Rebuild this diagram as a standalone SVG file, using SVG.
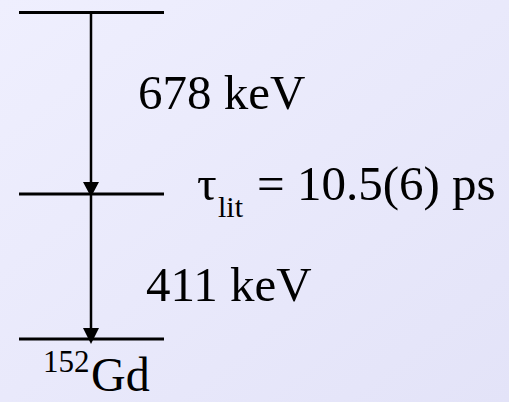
<svg xmlns="http://www.w3.org/2000/svg" width="509" height="402" viewBox="0 0 509 402">
  <style>
    .lvl { stroke: #000; stroke-width: 3; fill: none; }
    .tr { stroke: #000; stroke-width: 2.5; fill: none; }
    text { font-family: 'Liberation Serif', 'DejaVu Serif', serif; fill: #000; }
  </style>
  <defs>
    <linearGradient id="bg" x1="0" y1="0" x2="1" y2="1">
      <stop offset="0" stop-color="#EFEFFE"/>
      <stop offset="1" stop-color="#E3E3F8"/>
    </linearGradient>
  </defs>
  <rect width="509" height="402" fill="url(#bg)"/>
  <g id="level-top"><line class="lvl" x1="19" y1="12.5" x2="164" y2="12.5"/></g>
  <g id="level-mid"><line class="lvl" x1="19" y1="194" x2="164" y2="194"/></g>
  <g id="level-bot"><line class="lvl" x1="19" y1="339" x2="164" y2="339"/></g>
  <g id="connectors">
    <path d="M91,12 L91,182" class="tr"/>
    <path d="M83,182 L99,182 L91,197 Z" fill="#000"/>
    <path d="M91,194 L91,328" class="tr"/>
    <path d="M83,328 L99,328 L91,344 Z" fill="#000"/>
  </g>
  <g id="label-678"><text x="138" y="109" font-size="49">678 keV</text></g>
  <g id="label-411"><text x="146" y="301" font-size="49">411 keV</text></g>
  <g id="label-tau">
    <text x="197" y="200" font-size="49">τ</text>
    <text x="218" y="217" font-size="30">lit</text>
    <text x="257" y="200" font-size="49">= 10.5(6) ps</text>
  </g>
  <g id="label-gd">
    <text x="43" y="372" font-size="31">152</text>
    <text x="91" y="391" font-size="48">Gd</text>
  </g>
</svg>
